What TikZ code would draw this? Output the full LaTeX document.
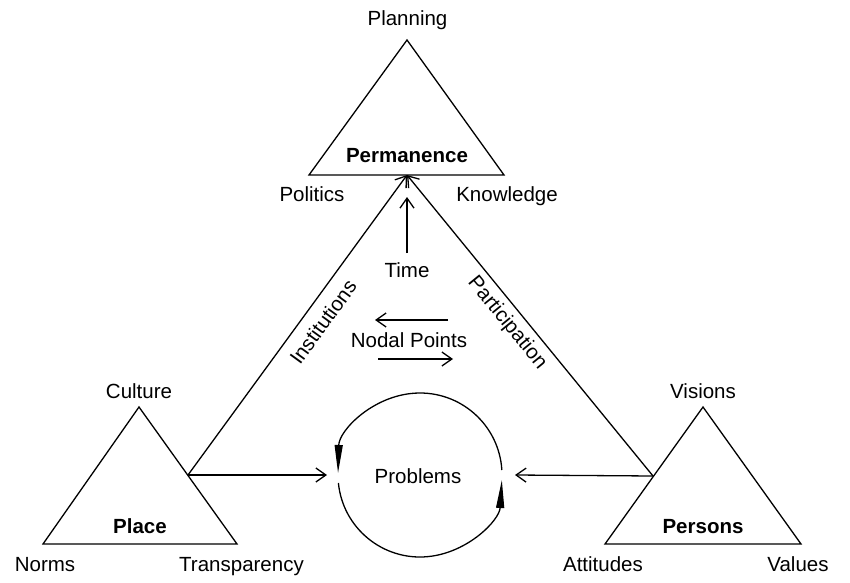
\documentclass[tikz,border=0pt]{standalone}
\usepackage{fontspec}
\setmainfont{Liberation Sans}
\usetikzlibrary{arrows.meta}
\begin{document}
\begin{tikzpicture}[x=1pt,y=1pt,line width=1.3pt,
  lbl/.style={anchor=base,inner sep=0pt,font=\fontsize{20.5}{24}\selectfont},
  blbl/.style={lbl,font=\fontsize{20.5}{24}\selectfont\bfseries},
  tri/.style={draw,line join=miter},
  vtip/.style={-{Straight Barb[length=10pt,width=14pt]}},
  wtip/.style={-{Triangle[length=28pt,width=8pt]}}]
\useasboundingbox (0,0) rectangle (850,582);
% triangles
\draw[tri] (407,542) -- (504,407) -- (309,407) -- cycle;
\draw[tri] (139,175) -- (237,38) -- (43,38) -- cycle;
\draw[tri] (703,175) -- (801,38) -- (605,38) -- cycle;
\coordinate (T) at (407,407);
\coordinate (L) at (188,107);
\coordinate (R) at (653,106);
\coordinate (C) at (420,107);
% labels
\node[lbl] (planning) at (407.5,556) {Planning};
\node[blbl] (perm) at (407,420) {Permanence};
\node[lbl] (politics) at (312,381) {Politics};
\node[lbl] (knowledge) at (507,381) {Knowledge};
\node[lbl] (culture) at (139,184) {Culture};
\node[blbl] (place) at (140,49) {Place};
\node[lbl] (norms) at (45,10.5) {Norms};
\node[lbl] (transp) at (241.5,10.5) {Transparency};
\node[lbl] (visions) at (703,184) {Visions};
\node[blbl] (persons) at (703,49) {Persons};
\node[lbl] (attitudes) at (603,11) {Attitudes};
\node[lbl] (values) at (798,11) {Values};
\node[lbl] (time) at (407,305) {Time};
\node[lbl] (nodal) at (409,235) {Nodal Points};
\node[lbl] (problems) at (418,99) {Problems};
\node[lbl,anchor=center,rotate=54] (inst) at (323,260) {Institutions};
\node[lbl,anchor=center,rotate=-50.8] (part) at (507,259) {Participation};
% connectors
\coordinate (timeTop) at (407,385);
\coordinate (timeBot) at (407,329);
\draw[vtip] (timeBot) -- (timeTop);
\draw[vtip] (L) -- (T);
\draw[vtip] (R) -- (T);
\coordinate (ua) at (448,262);
\coordinate (ub) at (375,262);
\coordinate (la) at (378,223);
\coordinate (lb) at (453,223);
\draw[vtip] (ua) -- (ub);
\draw[vtip] (la) -- (lb);
\coordinate (cl) at (327,107);
\coordinate (cr) at (515,107);
\draw[vtip] (L) -- (cl);
\draw[vtip] (R) -- (cr);
% circle
\draw[wtip] ([shift={(3.5:82)}]C) arc[start angle=3.5,end angle=178.6,radius=82];
\draw[wtip] ([shift={(185.6:82)}]C) arc[start angle=185.6,end angle=356.5,radius=82];
\end{tikzpicture}
\end{document}
